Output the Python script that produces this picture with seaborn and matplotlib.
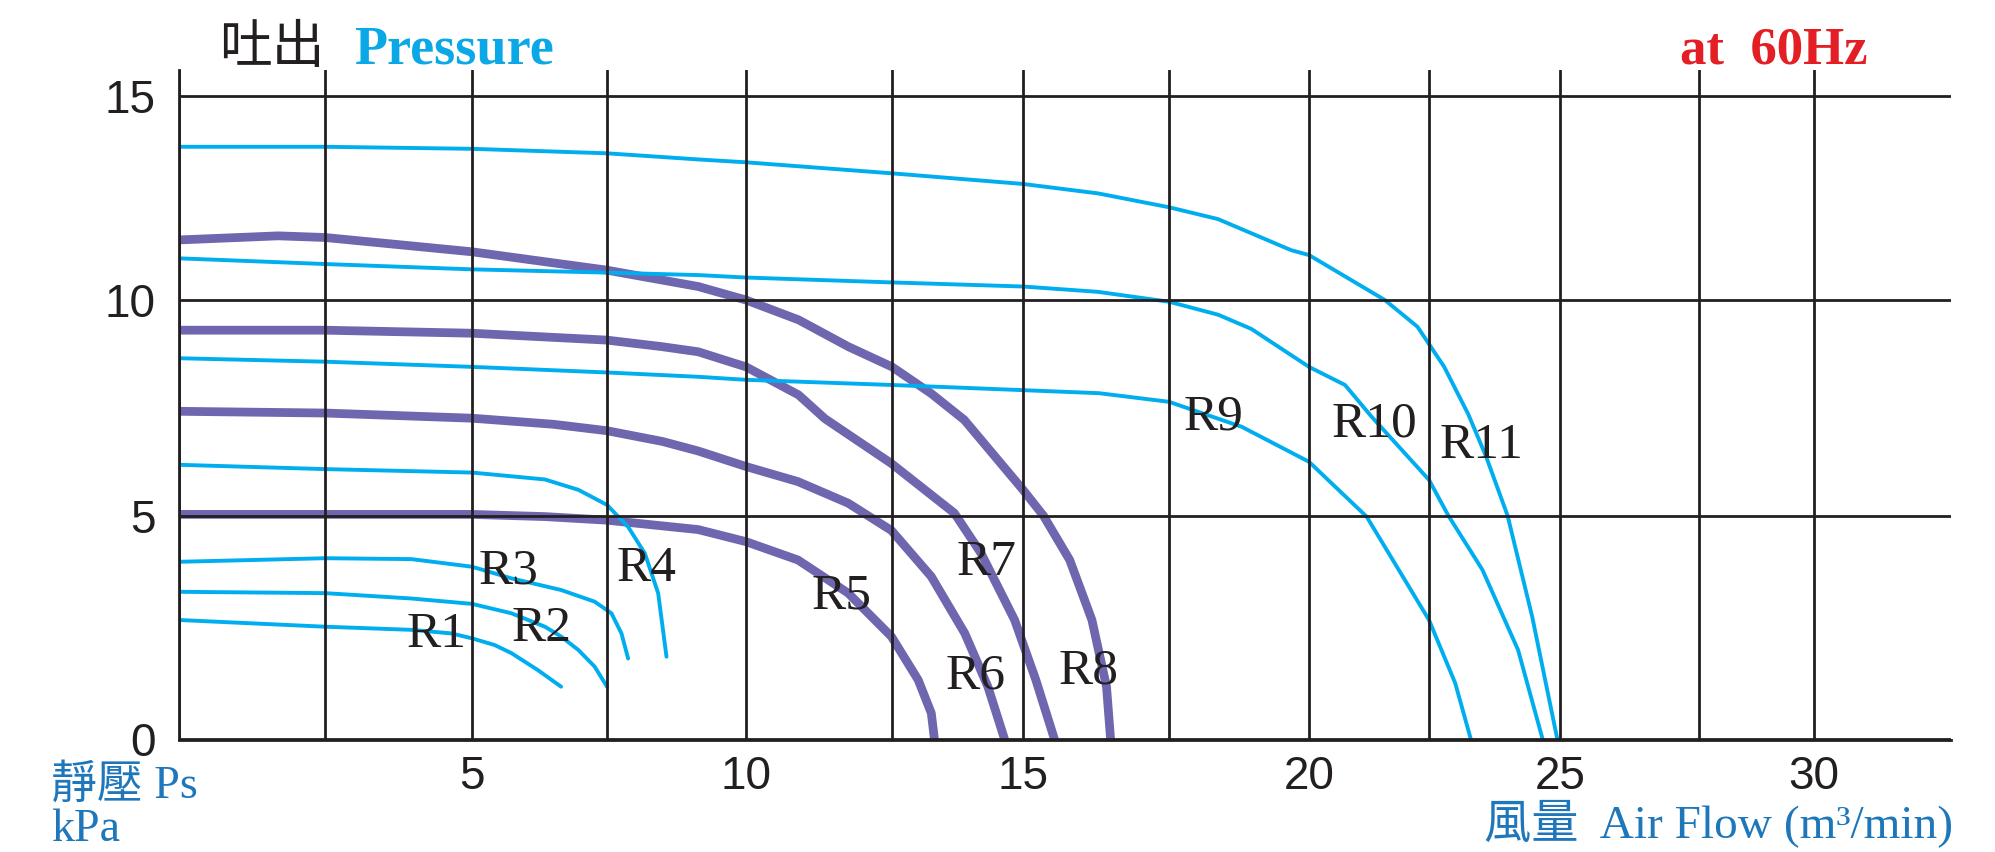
import numpy as np
import pandas as pd
import matplotlib
matplotlib.use('Agg')
import matplotlib.pyplot as plt
import seaborn as sns

# blower curves: air flow (m3/min) vs static pressure (kPa)
R1_X = [0, 2.5, 3.97, 4.65, 5.0, 5.42, 5.73, 6.22, 6.65]
R1_Y = [2.67, 2.52, 2.45, 2.37, 2.26, 2.11, 1.93, 1.55, 1.18]
R2_X = [0, 2.5, 3.97, 5, 5.73, 6.35, 6.65, 6.97, 7.27, 7.5]
R2_Y = [3.30, 3.27, 3.15, 3.03, 2.82, 2.52, 2.30, 2.0, 1.63, 1.18]
R3_X = [0, 2.5, 3.97, 5, 5.73, 6.65, 7.27, 7.58, 7.76, 7.88]
R3_Y = [3.97, 4.05, 4.03, 3.86, 3.6, 3.34, 3.08, 2.82, 2.37, 1.81]
R4_X = [0, 2.5, 5, 6.35, 6.97, 7.5, 7.88, 8.18, 8.42, 8.57]
R4_Y = [6.18, 6.08, 6.0, 5.84, 5.6, 5.25, 4.75, 4.16, 3.27, 1.85]
R5_X = [0, 5, 6.35, 7.5, 9.14, 10, 10.89, 11.75, 12.49, 13.0, 13.25, 13.31]
R5_Y = [5.03, 5.03, 4.98, 4.9, 4.69, 4.42, 4.01, 3.27, 2.3, 1.33, 0.59, 0]
R6_X = [0, 2.5, 5, 6.5, 7.5, 8.5, 9.14, 10, 10.89, 11.75, 12.49, 13.25, 13.89, 14.33, 14.65]
R6_Y = [7.42, 7.38, 7.26, 7.12, 6.97, 6.72, 6.5, 6.14, 5.79, 5.29, 4.67, 3.64, 2.37, 1.18, 0]
R7_X = [0, 2.5, 5, 7.5, 8.48, 9.14, 10, 10.9, 11.35, 12.49, 13.69, 14.2, 14.84, 15.22, 15.54]
R7_Y = [9.3, 9.3, 9.23, 9.07, 8.92, 8.8, 8.45, 7.8, 7.25, 6.21, 5.06, 4.16, 2.67, 1.33, 0]
R8_X = [0, 1.7, 2.5, 5, 7.5, 9.14, 10, 10.9, 11.75, 12.5, 13.25, 13.88, 15, 15.35, 15.8, 16.18, 16.43, 16.5]
R8_Y = [11.47, 11.57, 11.53, 11.18, 10.73, 10.33, 10.0, 9.54, 8.92, 8.45, 7.83, 7.22, 5.6, 5.0, 4.01, 2.67, 1.18, 0]
R9_X = [0, 2.5, 5, 7.5, 9.14, 10, 12.5, 15, 16.3, 17.5, 18.8, 20, 21.2, 22.5, 23.0, 23.3]
R9_Y = [8.65, 8.57, 8.45, 8.32, 8.22, 8.15, 8.03, 7.91, 7.84, 7.64, 7.06, 6.25, 4.98, 2.67, 1.26, 0]
R10_X = [0, 2.5, 5, 7.5, 9.14, 10, 12.5, 15, 16.28, 17.5, 18.375, 18.97, 20, 20.75, 21.3,
         22.5, 22.87, 23.52, 24.2, 24.67]
R10_Y = [11.02, 10.88, 10.75, 10.67, 10.61, 10.55, 10.43, 10.33, 10.2, 9.96, 9.66, 9.33, 8.45, 8.03, 7.3,
         5.83, 5.0, 3.79, 2.0, 0]
R11_X = [0, 2.5, 5, 7.5, 9.14, 10, 12.5, 15, 16.28, 17.5, 18.375, 19.68, 20, 21.58, 22.26,
         22.79, 23.25, 23.59, 24.0, 24.47, 24.95]
R11_Y = [13.75, 13.75, 13.7, 13.59, 13.44, 13.37, 13.1, 12.84, 12.61, 12.27, 11.98, 11.22, 11.10, 10.0, 9.38,
         8.45, 7.35, 6.37, 5.0, 2.74, 0]

THIN = ['R1', 'R2', 'R3', 'R4', 'R9', 'R10', 'R11']
THICK = ['R5', 'R6', 'R7', 'R8']

# where each curve name is written
LABEL_X = [4.39, 6.28, 5.68, 8.21, 11.63, 14.09, 14.31, 16.13, 18.3, 21.36, 23.5]
LABEL_Y = [2.35, 2.48, 3.75, 3.82, 3.19, 1.41, 3.94, 1.52, 7.29, 7.12, 6.62]

X_LABELS = [5, 10, 15, 20, 25, 30]
Y_LABELS = [0, 5, 10, 15]
GRID_X = [0, 2.5, 5, 7.5, 10, 12.5, 15, 17.5, 20, 22.5, 25, 27.5, 30]

curves = {
    'R1': (R1_X, R1_Y), 'R2': (R2_X, R2_Y), 'R3': (R3_X, R3_Y), 'R4': (R4_X, R4_Y),
    'R5': (R5_X, R5_Y), 'R6': (R6_X, R6_Y), 'R7': (R7_X, R7_Y), 'R8': (R8_X, R8_Y),
    'R9': (R9_X, R9_Y), 'R10': (R10_X, R10_Y), 'R11': (R11_X, R11_Y),
}
rows = []
for name, (xs, ys) in curves.items():
    for x, y in zip(xs, ys):
        rows.append({'curve': name, 'flow': x, 'ps': y,
                     'kind': 'thick' if name in THICK else 'thin'})
df = pd.DataFrame(rows)


# the printed grid is hand drawn, so each grid line gets its own pixel spot
def piecewise(vals, px):
    v = np.asarray(vals, float)
    p = np.asarray(px, float)
    lo = (p[1] - p[0]) / (v[1] - v[0])
    hi = (p[-1] - p[-2]) / (v[-1] - v[-2])
    v = np.r_[v[0] - 1e3, v, v[-1] + 1e3]
    p = np.r_[p[0] - 1e3 * lo, p, p[-1] + 1e3 * hi]
    return (lambda a: np.interp(a, v, p)), (lambda a: np.interp(a, p, v))


x_fwd, x_inv = piecewise(GRID_X + [32.5],
                         [179, 325, 472, 607, 746, 892, 1023, 1169, 1309, 1429, 1560, 1699, 1814, 1951])
y_fwd, y_inv = piecewise([0, 5, 10, 15, 15.63], [-739.5, -515.7, -300, -95.7, -70])

sns.set_theme(style='white')
plt.rcParams['font.family'] = ['Liberation Sans', 'Noto Sans CJK TC']

W, H = 1995, 852
fig = plt.figure(figsize=(W / 100, H / 100), dpi=100)
ax = fig.add_axes([179 / W, (H - 739.5) / H, (1951 - 179) / W, (739.5 - 70) / H])

blue = '#00AEEF'
purple = '#6F66B0'
ink = '#231F20'

sns.lineplot(data=df[df['kind'] == 'thick'], x='flow', y='ps', units='curve', estimator=None,
             sort=False, color=purple, linewidth=6.3, solid_capstyle='butt',
             solid_joinstyle='round', legend=False, ax=ax)
sns.lineplot(data=df[df['kind'] == 'thin'], x='flow', y='ps', units='curve', estimator=None,
             sort=False, color=blue, linewidth=2.8, solid_capstyle='round',
             solid_joinstyle='round', legend=False, ax=ax)

ax.set_xscale('function', functions=(x_fwd, x_inv))
ax.set_yscale('function', functions=(y_fwd, y_inv))
ax.set_xlim(0, 32.5)
ax.set_ylim(0, 15.63)

ax.set_xticks(GRID_X)
ax.set_xticklabels([str(int(v)) if v in X_LABELS else '' for v in GRID_X])
ax.set_yticks(Y_LABELS)
ax.set_yticklabels([str(v) for v in Y_LABELS])
ax.minorticks_off()
ax.tick_params(length=0, labelsize=33, labelcolor=ink)
ax.tick_params(axis='x', pad=11)
ax.tick_params(axis='y', pad=17)
ax.set_axisbelow(False)
ax.grid(True, color=ink, linewidth=2.0)
ax.set_xlabel('')
ax.set_ylabel('')
for side in ['top', 'right']:
    ax.spines[side].set_visible(False)
for side in ['left', 'bottom']:
    ax.spines[side].set_color(ink)
    ax.spines[side].set_linewidth(2.0)

names = list(curves.keys())
for name, lx, ly in zip(names, LABEL_X, LABEL_Y):
    ax.text(lx, ly, name, fontsize=37, color=ink, ha='center', va='center',
            family=['Liberation Serif'], zorder=5)

serif_cjk = ['Liberation Serif', 'Noto Sans CJK TC']
fig.text(219 / W, 1 - 63 / H, '吐出', fontsize=38, color=ink, ha='left', va='baseline',
         family=['Noto Sans CJK TC'])
fig.text(354 / W, 1 - 63 / H, 'Pressure', fontsize=39, fontweight='bold', color='#0AA8E6',
         ha='left', va='baseline', family=['Liberation Serif'])
fig.text(1868 / W, 1 - 64 / H, 'at  60Hz', fontsize=38, fontweight='bold', color='#E31E24',
         ha='right', va='baseline', family=['Liberation Serif'])
fig.text(51 / W, 1 - 798 / H, '靜壓 Ps', fontsize=33, color='#1E77BA', ha='left', va='baseline',
         family=serif_cjk)
fig.text(51 / W, 1 - 841 / H, 'kPa', fontsize=33, color='#1E77BA', ha='left', va='baseline',
         family=serif_cjk)
fig.text(1953 / W, 1 - 838 / H, '風量  Air Flow (m³/min)', fontsize=34, color='#1E77BA',
         ha='right', va='baseline', family=serif_cjk)

fig.savefig('out.png', dpi=100)
